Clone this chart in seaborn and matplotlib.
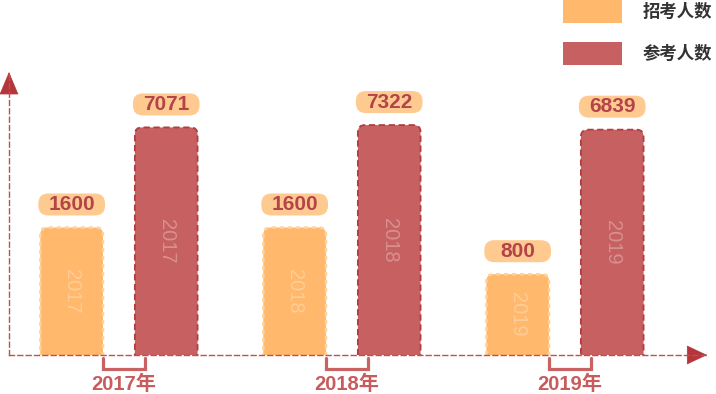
import numpy as np
import pandas as pd
import matplotlib
matplotlib.use("Agg")
import matplotlib.pyplot as plt
import seaborn as sns
from matplotlib.patches import FancyBboxPatch, Patch
from matplotlib.lines import Line2D
from matplotlib.transforms import IdentityTransform

# ── DATA ──────────────────────────────────────────────────────────────────────
years = ["2017", "2018", "2019"]
series = ["招考人数", "参考人数"]
zhaokao = [1600, 1600, 800]      # 招考人数
cankao = [7071, 7322, 6839]      # 参考人数
# ─────────────────────────────────────────────────────────────────────────────

ORANGE = "#ffb86c"
RED = "#c76061"
PILL = "#ffca90"
AXIS = "#c0504d"
ARROW = "#b5363a"
W, H = 716, 394

df = pd.DataFrame({
    "year": years * 2,
    "series": [series[0]] * len(years) + [series[1]] * len(years),
    "value": zhaokao + cankao,
})

sns.set_theme(style="white")
plt.rcParams["font.family"] = ["Liberation Sans", "Noto Sans CJK SC"]

fig = plt.figure(figsize=(W / 100, H / 100), dpi=100)
ax = fig.add_axes([9 / W, 39 / H, 698 / W, 283 / H])

sns.barplot(data=df, x="year", y="value", hue="series",
            palette=[ORANGE, RED], saturation=1, width=0.848, gap=0.337,
            legend=False, ax=ax)
ax.set_yscale("log")
ax.set_ylim(241, 16100)
ax.set_xlim(-0.493, 2.637)
ax.set_xlabel("")
ax.set_ylabel("")
ax.tick_params(which="both", left=False, bottom=False,
               labelleft=False, labelbottom=False)
ax.grid(False)

# axis lines: dashed, with arrow heads
for side in ["top", "right"]:
    ax.spines[side].set_visible(False)
for side in ["left", "bottom"]:
    ax.spines[side].set_color(AXIS)
    ax.spines[side].set_linewidth(1.0)
    ax.spines[side].set_linestyle((0, (3.6, 2.4)))
    ax.spines[side].set_zorder(5)

ax.annotate("", xy=(0, 1), xytext=(0, 0.97), xycoords="axes fraction",
            arrowprops=dict(arrowstyle="-|>,head_length=0.95,head_width=0.4",
                            mutation_scale=16, color=ARROW, lw=0.5,
                            shrinkA=0, shrinkB=0))
ax.annotate("", xy=(1, 0), xytext=(0.99, 0), xycoords="axes fraction",
            arrowprops=dict(arrowstyle="-|>,head_length=0.85,head_width=0.4",
                            mutation_scale=16, color=ARROW, lw=0.5,
                            shrinkA=0, shrinkB=0))

# ── rebuild bars with rounded tops, labels, brackets ─────────────────────────
bars = sorted(ax.patches, key=lambda p: p.get_x())
base = ax.transAxes.transform((0, 0))[1]
px = IdentityTransform()
boxes = []
for p in bars:
    x0, top = ax.transData.transform((p.get_x(), p.get_height()))
    x1, _ = ax.transData.transform((p.get_x() + p.get_width(), p.get_height()))
    boxes.append((x0, x1, top, p.get_height(), p.get_facecolor()))
    p.set_visible(False)

for i, (x0, x1, top, val, fc) in enumerate(boxes):
    is_orange = i % 2 == 0
    year = years[i // 2]
    cx = (x0 + x1) / 2
    bar = FancyBboxPatch((x0, base - 12), x1 - x0, top - base + 12,
                         boxstyle="round,pad=0,rounding_size=7",
                         transform=px, facecolor=fc,
                         edgecolor="#ffd49a" if is_orange else "#b23c3e",
                         linewidth=1.8 if is_orange else 1.3,
                         linestyle=(0, (1.6, 1.6)) if is_orange else (0, (3.5, 2)),
                         zorder=2)
    ax.add_patch(bar)

    ax.text(cx, (top + base) / 2, year, transform=px, rotation=270,
            ha="center", va="center", fontsize=14.5, color="white",
            alpha=0.3, zorder=3)

    pw = (x1 - x0) + 4
    pill = FancyBboxPatch((cx - pw / 2, top + 12), pw, 22,
                          boxstyle="round,pad=0,rounding_size=10",
                          transform=px, facecolor=PILL, edgecolor="none",
                          clip_on=False, zorder=3)
    ax.add_patch(pill)
    ax.text(cx, top + 23, f"{int(val)}", transform=px, ha="center",
            va="center", fontsize=15, fontweight="bold", color="#b5434a",
            clip_on=False, zorder=4)

for k, year in enumerate(years):
    o_right = boxes[2 * k][1]
    r_left = boxes[2 * k + 1][0]
    bx = [o_right, o_right, r_left + 10, r_left + 10]
    by = [base - 3, base - 14, base - 14, base - 3]
    ax.add_line(Line2D(bx, by, transform=px, color="#c96363", lw=2.3,
                       solid_joinstyle="miter", clip_on=False))
    ax.text((bx[0] + bx[2]) / 2, base - 29, f"{year}年", transform=px,
            ha="center", va="center", fontsize=14.5, fontweight="bold",
            color="#c85c5c", clip_on=False)

# legend
handles = [Patch(facecolor=ORANGE, edgecolor="none"),
           Patch(facecolor=RED, edgecolor="none")]
fig.legend(handles, series, loc="upper left",
           bbox_to_anchor=(563 / W, 1.0), bbox_transform=fig.transFigure,
           frameon=False, borderpad=0, borderaxespad=0,
           handlelength=3.4, handleheight=1.66, handletextpad=1.2,
           labelspacing=1.1,
           prop={"family": "Noto Sans CJK SC", "weight": "bold", "size": 12.5},
           labelcolor="#333333")

fig.savefig("out.png", dpi=100)
